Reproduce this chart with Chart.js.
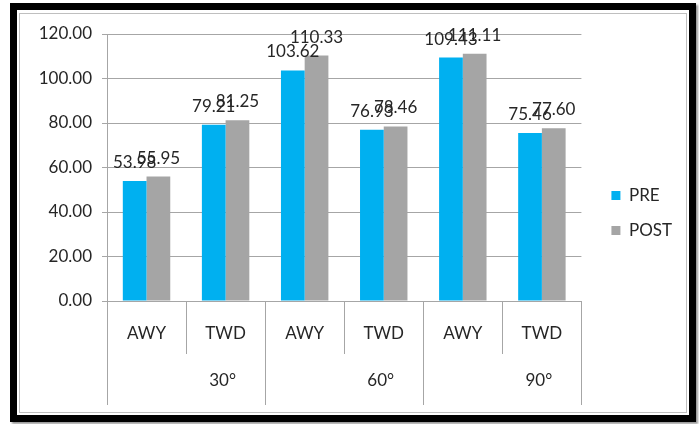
<!DOCTYPE html>
<html lang="en">

<head>
    <meta charset="UTF-8">
    <title>PRE / POST by angle</title>
    <script src="https://cdn.jsdelivr.net/npm/chart.js"></script>
    <style>
        body {
            margin: 0;
            background: #fff;
        }

        .frame {
            position: absolute;
            left: 10px;
            top: 3px;
            width: 686px;
            height: 419px;
            box-sizing: border-box;
            border: 7px solid #000;
            box-shadow: 2px 2px 2px #999;
        }

        .inner {
            position: absolute;
            left: 2px;
            top: 3px;
            right: 2px;
            bottom: 2px;
            border: 1px solid #bfbfbf;
        }

        .chart-container {
            position: absolute;
            left: 0;
            top: 0;
            width: 699px;
            height: 424px;
        }
    </style>
</head>

<body>
    <div class="frame"><div class="inner"></div></div>
    <div class="chart-container">
        <canvas id="angleChart"></canvas>
    </div>

    <script>
        const categories = ['AWY', 'TWD', 'AWY', 'TWD', 'AWY', 'TWD'];
        const groups = ['30°', '60°', '90°'];
        const preValues = [53.98, 79.21, 103.62, 76.93, 109.43, 75.46];
        const postValues = [55.95, 81.25, 110.33, 78.46, 111.11, 77.60];
        const yTicks = [0, 20, 40, 60, 80, 100, 120];

        const FONT = 'Lato, "Open Sans", sans-serif';
        const TEXT = '#262626';
        const LINE = '#a6a6a6';

        // value labels above each bar
        const barLabels = {
            id: 'barLabels',
            afterDatasetsDraw(chart) {
                const ctx = chart.ctx;
                ctx.save();
                ctx.font = '17px ' + FONT;
                ctx.fillStyle = TEXT;
                ctx.textAlign = 'center';
                ctx.textBaseline = 'alphabetic';
                chart.data.datasets.forEach((ds, i) => {
                    chart.getDatasetMeta(i).data.forEach((bar, j) => {
                        ctx.fillText(ds.data[j].toFixed(2), bar.x, bar.y - 13);
                    });
                });
                ctx.restore();
            }
        };

        // two-level category axis: separators and group names
        const groupAxis = {
            id: 'groupAxis',
            afterDraw(chart) {
                const x = chart.scales.x;
                const ctx = chart.ctx;
                const step = x.getPixelForValue(1) - x.getPixelForValue(0);
                const top = x.top;
                ctx.save();
                ctx.strokeStyle = LINE;
                ctx.lineWidth = 1;
                for (let i = 0; i <= categories.length; i++) {
                    const px = Math.round(x.getPixelForValue(0) - step / 2 + i * step) + 0.5;
                    const len = i % 2 === 0 ? 104 : 53;
                    ctx.beginPath();
                    ctx.moveTo(px, top);
                    ctx.lineTo(px, top + len);
                    ctx.stroke();
                }
                ctx.font = '17px ' + FONT;
                ctx.fillStyle = TEXT;
                ctx.textAlign = 'center';
                ctx.textBaseline = 'middle';
                groups.forEach((g, i) => {
                    ctx.fillText(g, x.getPixelForValue(i * 2 + 1) - 3, top + 80);
                });
                ctx.restore();
            }
        };

        const ctx = document.getElementById('angleChart').getContext('2d');

        const angleChart = new Chart(ctx, {
            type: 'bar',
            data: {
                labels: categories,
                datasets: [{
                    label: 'PRE',
                    data: preValues,
                    backgroundColor: '#00b0f0',
                    barPercentage: 1.0,
                    categoryPercentage: 0.6
                }, {
                    label: 'POST',
                    data: postValues,
                    backgroundColor: '#a5a5a5',
                    barPercentage: 1.0,
                    categoryPercentage: 0.6
                }]
            },
            options: {
                responsive: true,
                maintainAspectRatio: false,
                animation: false,
                layout: {
                    padding: { top: 34, left: 0, right: 17, bottom: 32 }
                },
                plugins: {
                    legend: {
                        position: 'right',
                        labels: {
                            boxWidth: 9,
                            boxHeight: 9,
                            padding: 18,
                            color: TEXT,
                            font: { family: FONT, size: 17 }
                        }
                    },
                    tooltip: { enabled: false }
                },
                scales: {
                    x: {
                        grid: { display: false },
                        border: { color: LINE },
                        ticks: {
                            color: TEXT,
                            padding: 14,
                            font: { family: FONT, size: 17 }
                        },
                        afterFit(scale) {
                            scale.height = 91;
                        }
                    },
                    y: {
                        min: 0,
                        max: 120,
                        afterBuildTicks(scale) {
                            scale.ticks = yTicks.map(v => ({ value: v }));
                        },
                        grid: { color: LINE, tickLength: 5 },
                        border: { color: LINE },
                        ticks: {
                            color: TEXT,
                            padding: 10,
                            font: { family: FONT, size: 17 },
                            callback: v => v.toFixed(2)
                        },
                        afterFit(scale) {
                            scale.width = 107;
                        }
                    },
                    // empty spacer between plot and legend
                    gap: {
                        type: 'linear',
                        position: 'right',
                        grid: { display: false },
                        border: { display: false },
                        ticks: { display: false },
                        afterFit(scale) {
                            scale.width = 12;
                        }
                    }
                }
            },
            plugins: [barLabels, groupAxis]
        });
    </script>
</body>

</html>
